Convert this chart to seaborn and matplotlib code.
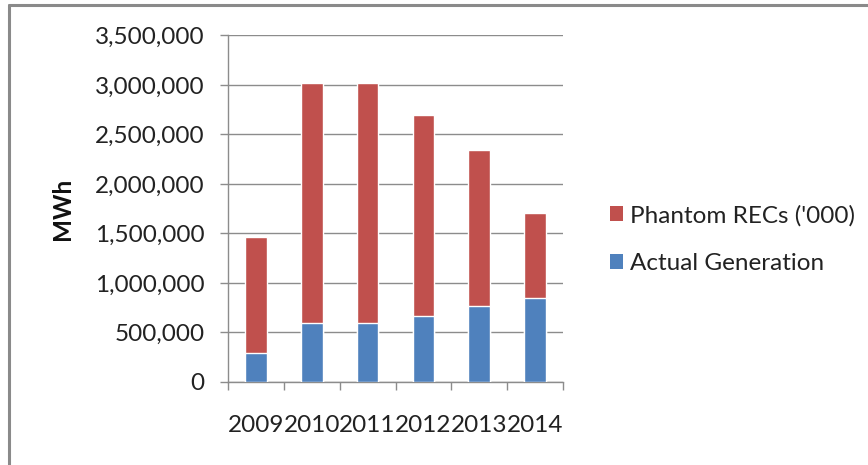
import matplotlib
matplotlib.use("Agg")
import matplotlib.pyplot as plt
import matplotlib.ticker as mticker
from matplotlib.patches import Patch
import seaborn as sns
import pandas as pd

years = ["2009", "2010", "2011", "2012", "2013", "2014"]
actual_generation = [290000, 600000, 600000, 665000, 770000, 847000]
phantom_recs = [1170000, 2417000, 2417000, 2030000, 1573000, 862000]

RED = "#C0504D"
BLUE = "#4F81BD"
GRID = "#8C8C8C"
FONT = "Lato"
TXT = 17.5

sns.set_theme(style="white")
plt.rcParams["font.family"] = [FONT, "DejaVu Sans"]

df = pd.DataFrame({"year": years, "actual": actual_generation, "phantom": phantom_recs})
df["total"] = df["actual"] + df["phantom"]

fig = plt.figure(figsize=(8.68, 4.65), dpi=100)
ax = fig.add_axes([0.2627, 0.1785, 0.3859, 0.7455])

# stacked columns: full height in red, actual generation in blue at the base
sns.barplot(data=df, x="year", y="total", color=RED, width=0.385, saturation=1,
            ax=ax, zorder=3)
sns.barplot(data=df, x="year", y="actual", color=BLUE, width=0.385, saturation=1,
            ax=ax, zorder=4)

ax.set_ylim(0, 3500000)
ax.set_xlim(-0.5, len(years) - 0.5)
ax.yaxis.set_major_locator(mticker.MultipleLocator(500000))
ax.yaxis.set_major_formatter(mticker.FuncFormatter(lambda v, p: f"{int(v):,}"))
ax.grid(axis="y", color=GRID, linewidth=1.0, zorder=0)
ax.set_axisbelow(True)

for side in ["top", "right"]:
    ax.spines[side].set_visible(False)
for side in ["left", "bottom"]:
    ax.spines[side].set_color(GRID)
    ax.spines[side].set_linewidth(1.0)

# category boundary ticks on the x axis, labels centred between them
ax.set_xticks([i for i in range(len(years))])
ax.set_xticklabels(years)
ax.set_xticks([i - 0.5 for i in range(len(years) + 1)], minor=True)
ax.tick_params(axis="x", which="major", length=0, pad=24, labelsize=TXT,
               labelcolor="#222222")
ax.tick_params(axis="x", which="minor", length=6, width=1, color=GRID,
               direction="out", bottom=True)
ax.tick_params(axis="y", which="major", length=6, width=1, color=GRID,
               direction="out", left=True, pad=11, labelsize=TXT,
               labelcolor="#222222")

ax.set_xlabel("")
ax.set_ylabel("MWh", fontsize=TXT, fontweight="bold", color="#111111")
ax.yaxis.set_label_coords(-0.46, 0.5)

handles = [Patch(facecolor=RED, edgecolor="none", label="Phantom RECs ('000)"),
           Patch(facecolor=BLUE, edgecolor="none", label="Actual Generation")]
leg = fig.legend(handles=handles, loc="center left", bbox_to_anchor=(0.677, 0.485),
                 frameon=False, fontsize=TXT, handlelength=0.55, handleheight=0.55,
                 handletextpad=0.3, labelspacing=1.1, labelcolor="#222222")

# outer chart frame (top and left edges)
fig.add_artist(plt.Line2D([0.0105, 1.0], [0.989, 0.989], transform=fig.transFigure,
                          color="#8A8A8A", linewidth=2.2))
fig.add_artist(plt.Line2D([0.0105, 0.0105], [0.0, 0.989], transform=fig.transFigure,
                          color="#8A8A8A", linewidth=2.2))

fig.savefig("out.png", dpi=100, facecolor="white")
